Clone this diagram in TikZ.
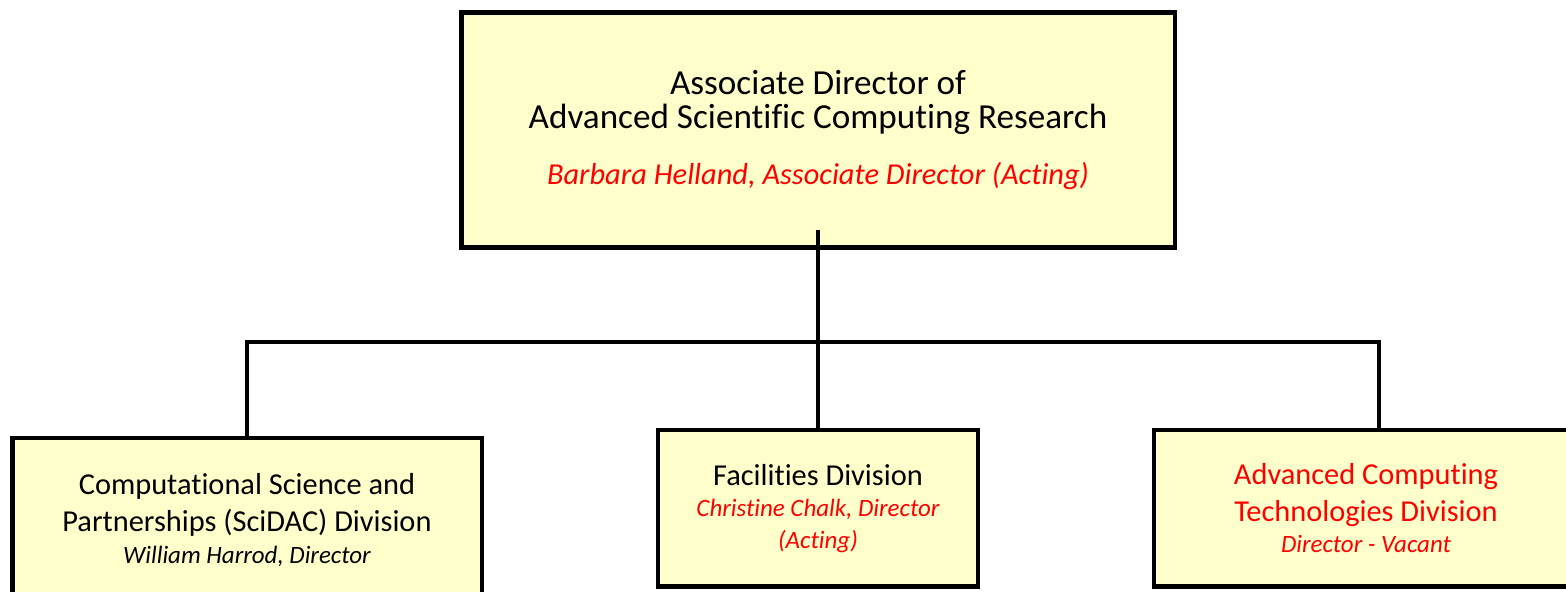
\documentclass[tikz,border=0pt]{standalone}
\usepackage{fontspec}
\setmainfont{Carlito}[Ligatures=NoCommon]
\usepackage{tikz}
\usetikzlibrary{positioning,calc}
\definecolor{boxyellow}{RGB}{255,255,204}
\definecolor{namered}{RGB}{255,0,0}
\tikzset{
    orgbox/.style={draw=black, line width=0.09cm, fill=boxyellow, rectangle, align=center, inner sep=0pt},
    orgline/.style={draw=black, line width=0.09cm},
    headfont/.style={font=\fontsize{20}{19.3}\selectfont},
    divfont/.style={font=\fontsize{17.3}{21}\selectfont},
}
\newcommand{\headname}[1]{{\color{namered}\fontsize{17.3}{17.3}\selectfont\itshape #1}}
\newcommand{\divname}[1]{{\fontsize{14.2}{14.2}\selectfont\itshape #1}}

\begin{document}
\begin{tikzpicture}
    \useasboundingbox (0,0) rectangle (31.32,-11.82);
    \clip (0,0) rectangle (31.32,-11.82);

    % Associate Director
    \node [orgbox, headfont, minimum width=14.27cm, minimum height=4.70cm] (ascr) at (16.36,-2.60)
        {Associate Director of\\Advanced Scientific Computing Research\\[13pt]
         \headname{Barbara Helland, Associate Director (Acting)}};

    % Divisions
    \node [orgbox, divfont, minimum width=9.39cm, minimum height=3.28cm] (scidac) at (4.94,-10.40)
        {Computational Science and\\Partnerships (SciDAC) Division\\[-3pt]
         \divname{William Harrod, Director}};
    \node [orgbox, divfont, minimum width=6.40cm, minimum height=3.13cm] (facil) at (16.36,-10.165)
        {Facilities Division\\[-3pt]
         {\color{namered}\divname{Christine Chalk, Director}}\\[-3pt]
         {\color{namered}\divname{(Acting)}}};
    \node [orgbox, divfont, text=namered, minimum width=8.48cm, minimum height=3.13cm] (actd) at (27.32,-10.165)
        {Advanced Computing\\Technologies Division\\[-3pt]
         \divname{Director - Vacant}};

    % Connectors
    \coordinate (bar) at (16.36,-6.84);
    \draw [orgline] (ascr.south) ++(0,0.4) -- (facil.north);
    \draw [orgline] (scidac.north) |- (bar) -| ([xshift=0.26cm]actd.north);
\end{tikzpicture}
\end{document}
